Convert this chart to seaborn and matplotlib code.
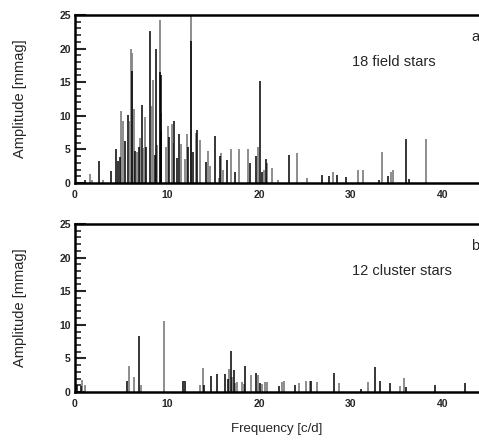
import numpy as np
import matplotlib
matplotlib.use("Agg")
import matplotlib.pyplot as plt
import seaborn as sns

# field stars (panel a): frequency [c/d] and amplitude [mmag]
field_black_f = [1.08, 2.63, 3.96, 4.43, 4.72, 4.86, 5.48, 5.73, 6.16, 6.56, 6.95, 7.32, 7.68,
                 8.18, 8.65, 8.79, 9.19, 9.33, 9.40, 10.27, 10.74, 11.06, 11.28, 12.29, 12.61,
                 12.79, 13.30, 14.23, 15.24, 15.78, 16.50, 17.37, 19.03, 19.64, 20.11, 20.29,
                 20.74, 23.30, 26.80, 27.60, 28.50, 29.47, 33.00, 34.00, 36.03, 36.30]
field_black_a = [0.5, 3.3, 1.8, 5.1, 3.2, 3.9, 6.3, 10.1, 16.7, 4.7, 5.4, 11.6, 5.4,
                 22.6, 4.2, 20.0, 16.5, 7.7, 16.1, 6.9, 9.3, 3.7, 7.3, 5.4, 21.2,
                 4.6, 7.9, 3.1, 7.0, 4.0, 3.4, 1.7, 3.0, 4.0, 15.2, 1.7,
                 3.6, 4.1, 1.2, 1.0, 1.2, 0.9, 0.5, 1.0, 6.5, 0.6]
field_gray_f = [1.60, 1.90, 3.00, 4.97, 5.23, 5.95, 6.13, 6.23, 6.38, 6.77, 7.06, 7.50, 7.60,
                8.36, 8.50, 8.90, 9.25, 9.30, 9.84, 10.09, 10.49, 10.67, 11.53, 11.93, 12.14,
                12.63, 13.15, 13.59, 14.45, 14.67, 15.60, 15.86, 16.04, 16.94, 17.84, 18.85,
                19.93, 20.50, 20.90, 21.40, 22.10, 24.10, 25.20, 27.99, 30.72, 31.30, 33.40,
                34.40, 34.60, 38.16]
field_gray_a = [1.4, 0.4, 0.5, 10.7, 9.2, 9.2, 20.0, 19.4, 11.0, 4.6, 6.7, 5.2, 9.8,
                11.4, 15.3, 5.7, 24.3, 10.4, 5.4, 8.5, 8.8, 6.0, 5.8, 3.5, 7.3,
                26.0, 7.5, 6.4, 4.7, 2.5, 0.7, 4.4, 2.0, 5.1, 5.0, 5.0,
                5.4, 2.0, 3.0, 2.3, 0.5, 4.5, 0.7, 1.6, 2.0, 2.0, 4.6,
                1.7, 1.9, 6.5]

# cluster stars (panel b)
cluster_black_f = [0.18, 0.60, 5.69, 6.92, 11.71, 11.93, 14.05, 14.77, 15.42, 16.32, 16.61,
                   16.94, 17.23, 18.49, 19.71, 20.10, 22.20, 23.87, 25.70, 28.10, 31.10,
                   32.56, 33.20, 34.20, 35.95, 39.10, 42.40]
cluster_black_a = [1.1, 0.9, 1.7, 8.3, 1.6, 1.6, 1.0, 2.4, 2.7, 2.7, 2.0,
                   6.1, 3.2, 3.8, 2.8, 1.3, 0.9, 1.1, 1.6, 2.9, 0.4,
                   3.7, 1.6, 1.4, 0.8, 1.1, 1.4]
cluster_gray_f = [0.76, 1.08, 5.84, 6.41, 7.14, 9.69, 13.62, 13.91, 16.76, 17.08, 17.37,
                  17.62, 18.13, 18.38, 19.10, 19.86, 20.29, 20.63, 20.90, 22.47, 22.76,
                  24.30, 25.10, 25.50, 26.30, 28.66, 31.80, 35.30, 35.73]
cluster_gray_a = [1.8, 1.0, 3.8, 2.3, 1.0, 10.6, 1.0, 3.5, 3.4, 2.3, 1.4,
                  1.5, 1.5, 1.2, 2.5, 2.5, 1.2, 1.5, 1.5, 1.5, 1.7,
                  1.4, 1.6, 1.7, 1.5, 1.3, 1.5, 0.9, 2.1]

sns.set_theme(style="ticks")
plt.rcParams['font.family'] = ['Liberation Sans', 'DejaVu Sans']

fig = plt.figure(figsize=(4.79, 4.41), dpi=100)
ax_a = fig.add_axes([75 / 479, 1 - 183 / 441, 404 / 479, 168 / 441])
ax_b = fig.add_axes([75 / 479, 1 - 392 / 441, 404 / 479, 168 / 441])

panels = [
    (ax_a, field_gray_f, field_gray_a, field_black_f, field_black_a, "18 field stars", "a"),
    (ax_b, cluster_gray_f, cluster_gray_a, cluster_black_f, cluster_black_a, "12 cluster stars", "b"),
]

for ax, gf, ga, bf, ba, label, letter in panels:
    ax.vlines(gf, 0, ga, color="#858585", lw=1.3)
    ax.vlines(bf, 0, ba, color="black", lw=1.1)
    ax.set_xlim(0, 404 / 9.2)
    ax.set_ylim(0, 25)
    ax.set_xticks([0, 10, 20, 30, 40])
    ax.set_yticks([0, 5, 10, 15, 20, 25])
    ax.set_yticks(np.arange(0, 26, 1), minor=True)
    ax.tick_params(axis="y", which="major", direction="in", length=8, width=1.5, pad=3)
    ax.tick_params(axis="y", which="minor", direction="in", length=4.5, width=1.2)
    ax.tick_params(axis="x", which="both", length=0, pad=5)
    for t in ax.get_xticklabels() + ax.get_yticklabels():
        t.set_fontweight("bold")
        t.set_fontsize(7.5)
    for side in ["top", "left", "bottom"]:
        ax.spines[side].set_linewidth(1.8)
        ax.spines[side].set_color("black")
    ax.spines["right"].set_visible(False)
    ax.set_ylabel("Amplitude [mmag]", fontsize=10.5, labelpad=23)
    ax.text(30.1, 18.0, label, fontsize=10.5, va="center", ha="left")
    ax.text(43.1, 21.8, letter, fontsize=10.5, va="center", ha="left")

ax_b.set_xlabel("Frequency [c/d]", fontsize=9.5, labelpad=10)

fig.savefig("out.png", dpi=100)
